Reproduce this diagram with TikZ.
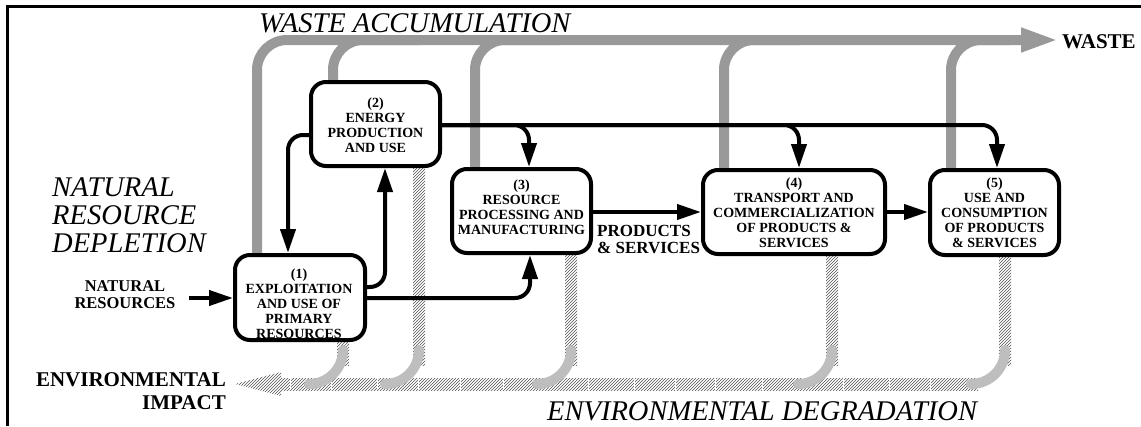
\documentclass[tikz,border=0pt]{standalone}
\usepackage{fontspec}
\setmainfont{Liberation Serif}
\usetikzlibrary{arrows.meta,patterns}
\definecolor{wastegray}{HTML}{999999}
\definecolor{arcgray}{HTML}{BEBEBE}
\definecolor{hatchgray}{HTML}{505050}
\pgfdeclarelayer{bg}
\pgfsetlayers{bg,main}
\tikzset{
 procbox/.style={draw, line width=4pt, rounded corners=15pt, fill=white, inner sep=0pt},
 boxtext/.style={align=center, inner sep=0pt, font=\bfseries\fontsize{14}{15}\selectfont},
 blk/.style={line width=4pt, -{Triangle[length=24pt,width=15pt]}, rounded corners=15pt},
 waste/.style={draw=wastegray, line width=10pt, rounded corners=30pt},
 hatch/.style={pattern=north east lines, pattern color=hatchgray},
 envarc/.style={draw=arcgray, line width=10pt, line cap=round},
 biglabel/.style={font=\itshape\fontsize{28.5}{28}\selectfont, inner sep=0pt},
 boldlabel/.style={font=\bfseries\fontsize{21}{23}\selectfont, inner sep=0pt},
 sidelabel/.style={font=\bfseries\fontsize{16.5}{16.5}\selectfont, inner sep=0pt, align=center},
 prodlabel/.style={font=\bfseries\fontsize{17}{16.5}\selectfont, inner sep=0pt, align=left},
}
\begin{document}
\begin{tikzpicture}[x=1pt,y=-1pt]
\useasboundingbox (0,0) rectangle (1141,426);
% frame
\draw[line width=3.5pt, line join=miter] (7.3,426) -- (7.3,6.7) -- (1141,6.7);

% process boxes
\node[procbox, minimum width=130pt, minimum height=85pt] (b1) at (300,297.5) {};
\node[procbox, minimum width=129pt, minimum height=84pt] (b2) at (375.5,124) {};
\node[procbox, minimum width=139pt, minimum height=84pt] (b3) at (521.5,211) {};
\node[procbox, minimum width=182pt, minimum height=84pt] (b4) at (794,212) {};
\node[procbox, minimum width=129pt, minimum height=85pt] (b5) at (994.5,212.5) {};

% helper coordinates
\coordinate (w1) at (257,0);
\coordinate (w2) at (333,0);
\coordinate (w3) at (475,0);
\coordinate (w4) at (724,0);
\coordinate (w5) at (951,0);
\coordinate (wasteend) at (1059,40);
\coordinate (yA) at (0,287);
\coordinate (xA) at (385,0);
\coordinate (yB) at (0,135);
\coordinate (xB) at (288,0);
\coordinate (yC) at (0,298);
\coordinate (xC) at (530,0);
\coordinate (yD) at (0,125);
\coordinate (xD3) at (529,0);
\coordinate (xD4) at (799,0);
\coordinate (xD5) at (997,0);
\coordinate (yE) at (0,212);
\coordinate (nrs) at (189,298);

\begin{pgfonlayer}{bg}
% waste accumulation (gray)
\draw[waste, -{Triangle[length=38pt,width=22pt]}] (w1 |- b1.north) |- (wasteend);
\draw[waste] (w2 |- b2.north) |- (420,40);
\draw[waste] (w3 |- b3.north) |- (560,40);
\draw[waste] (w4 |- b4.north) |- (800,40);
\draw[waste] (w5 |- b5.north) |- (1010,40);
% environmental degradation (hatched)
\fill[hatch] (337,340) rectangle (349,365);
\fill[hatch] (413,166) rectangle (425,365);
\fill[hatch] (565,253) rectangle (577,365);
\fill[hatch] (826,254) rectangle (838,365);
\fill[hatch] (999,255) rectangle (1011,365);
\fill[hatch] (281,378) rectangle (978,390);
\fill[hatch] (235,384) -- (281,372) -- (281,396) -- cycle;
\foreach \x in {290,331,377,418,460,503,545,588,634,675,715,762,803,843,889,930}
  \draw[white, line width=1pt] (\x,378) -- (\x,390);
\foreach \x in {343,419,571,832,1005}
  \draw[envarc] (\x,350) .. controls (\x,368.8) and ({\x-15.2},384) .. ({\x-34},384);
\end{pgfonlayer}

% black flows
\draw[blk] (nrs) -- (nrs -| b1.west);
\draw[blk] (b1.east |- yA) -| (xA |- b2.south);
\draw[blk] (b2.west |- yB) -| (xB |- b1.north);
\draw[blk] (b1.east |- yC) -| (xC |- b3.south);
\draw[blk] (b2.east |- yD) -| (xD3 |- b3.north);
\draw[blk] (b2.east |- yD) -| (xD4 |- b4.north);
\draw[blk] (b2.east |- yD) -| (xD5 |- b5.north);
\draw[blk] (b3.east |- yE) -- (b4.west |- yE);
\draw[blk] (b4.east |- yE) -- (b5.west |- yE);

% box texts
\node[boxtext] (t1) at (299,303.5) {(1)\\EXPLOITATION\\AND USE OF\\PRIMARY\\RESOURCES};
\node[boxtext] (t2) at (375.5,125.5) {(2)\\ENERGY\\PRODUCTION\\AND USE};
\node[boxtext] (t3) at (521.5,207.5) {(3)\\RESOURCE\\PROCESSING AND\\MANUFACTURING};
\node[boxtext] (t4) at (794,212.5) {(4)\\TRANSPORT AND\\COMMERCIALIZATION\\OF PRODUCTS \&\\SERVICES};
\node[boxtext] (t5) at (994.5,212.5) {(5)\\USE AND\\CONSUMPTION\\OF PRODUCTS\\\& SERVICES};

% labels
\node[biglabel, anchor=base west] (lwa) at (259,32.5) {WASTE ACCUMULATION};
\node[biglabel, anchor=west, align=left] (lnrd) at (52,215.7) {NATURAL\\RESOURCE\\DEPLETION};
\node[biglabel, anchor=base west] (led) at (547,420) {ENVIRONMENTAL DEGRADATION};
\node[boldlabel, anchor=base west] (lwaste) at (1062,48) {WASTE};
\node[boldlabel, anchor=east, align=right] (lei) at (226,391.5) {ENVIRONMENTAL\\IMPACT};
\node[sidelabel] (lnr) at (125,294.5) {NATURAL\\RESOURCES};
\node[prodlabel, anchor=west] (lps) at (597,239.4) {PRODUCTS\\\& SERVICES};
\end{tikzpicture}
\end{document}
